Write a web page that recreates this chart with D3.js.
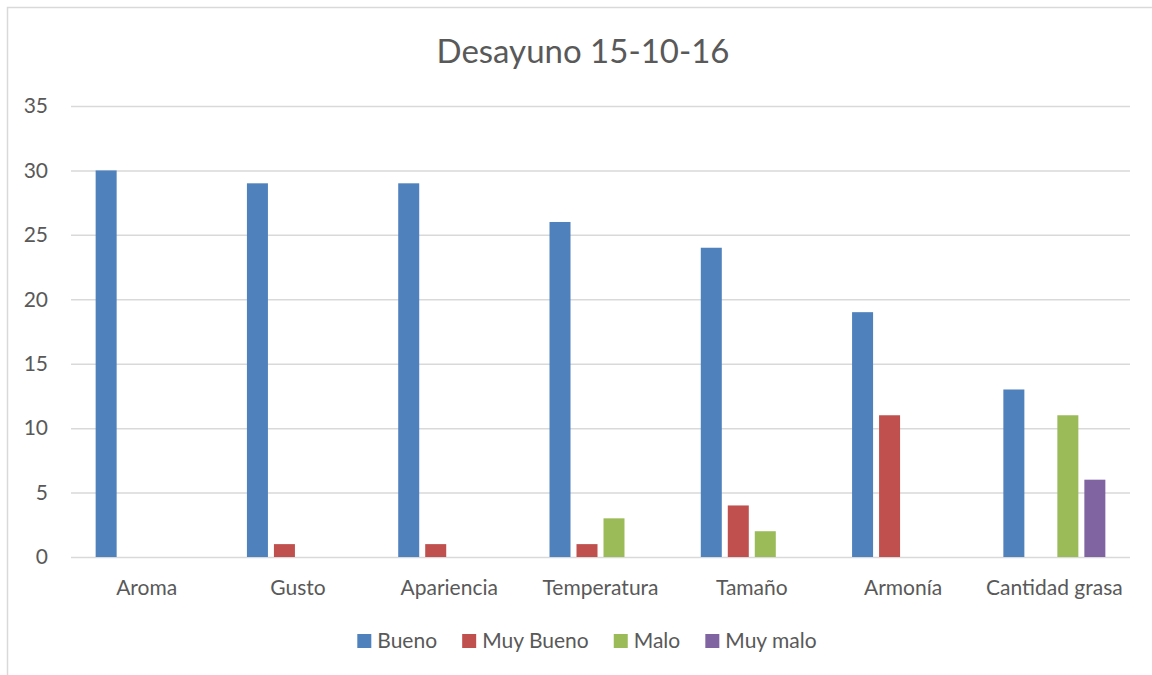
<!DOCTYPE html>
<html>
<head>
<meta charset="utf-8">
<script src="https://cdn.jsdelivr.net/npm/d3@7"></script>
<style>
  body { margin: 0; background: #fff; }
  text { font-family: Lato, "Open Sans", sans-serif; fill: #595959; }
</style>
</head>
<body>
<script>
const categories = ['Aroma', 'Gusto', 'Apariencia', 'Temperatura', 'Tamaño', 'Armonía', 'Cantidad grasa'];
const seriesNames = ['Bueno', 'Muy Bueno', 'Malo', 'Muy malo'];
const colors = ['#4f81bd', '#c0504d', '#9bbb59', '#8064a2'];
const bueno = [30, 29, 29, 26, 24, 19, 13];
const muyBueno = [0, 1, 1, 1, 4, 11, 0];
const malo = [0, 0, 0, 3, 2, 0, 11];
const muyMalo = [0, 0, 0, 0, 0, 0, 6];
const yTicks = [0, 5, 10, 15, 20, 25, 30, 35];

const values = [bueno, muyBueno, malo, muyMalo];
const width = 1152, height = 675;
const plot = {left: 71, right: 1130, top: 106, bottom: 557};

const svg = d3.select('body').append('svg')
    .attr('width', width)
    .attr('height', height);

// chart frame
svg.append('rect')
    .attr('x', 7.5).attr('y', 7.5)
    .attr('width', width).attr('height', height)
    .attr('fill', 'none')
    .attr('stroke', '#d9d9d9')
    .attr('stroke-width', 1.5);

const x = d3.scaleBand()
    .domain(categories)
    .range([plot.left, plot.right]);

const x1 = d3.scaleBand()
    .domain(seriesNames)
    .range([0, 102])
    .paddingInner(0.222);

const y = d3.scaleLinear()
    .domain([0, 35])
    .range([plot.bottom, plot.top]);

// gridlines
svg.append('g')
    .attr('class', 'grid')
    .attr('transform', 'translate(' + plot.left + ',0)')
    .call(d3.axisLeft(y).tickValues(yTicks).tickSize(-(plot.right - plot.left)).tickFormat(''))
    .call(g => g.select('.domain').remove())
    .selectAll('line')
    .attr('stroke', '#d9d9d9')
    .attr('stroke-width', 1.5);

// y labels
svg.append('g')
    .attr('transform', 'translate(' + plot.left + ',0)')
    .call(d3.axisLeft(y).tickValues(yTicks).tickSize(0).tickPadding(23))
    .call(g => g.select('.domain').remove())
    .selectAll('text')
    .attr('font-size', '21px')
    .style('fill', '#595959');

// bars
const groups = svg.selectAll('g.cat')
    .data(categories)
    .enter().append('g')
    .attr('class', 'cat')
    .attr('transform', function(d) {
        return 'translate(' + (x(d) + x.bandwidth() / 2 - 51) + ',0)';
    });

groups.selectAll('rect')
    .data(function(d, i) {
        return seriesNames.map(function(s, j) {
            return {series: s, value: values[j][i], color: colors[j]};
        });
    })
    .enter().append('rect')
    .attr('x', function(d) { return x1(d.series); })
    .attr('width', x1.bandwidth())
    .attr('y', function(d) { return y(d.value); })
    .attr('height', function(d) { return y(0) - y(d.value); })
    .attr('fill', function(d) { return d.color; });

// x labels
svg.append('g')
    .attr('transform', 'translate(0,' + plot.bottom + ')')
    .call(d3.axisBottom(x).tickSize(0).tickPadding(23))
    .call(g => g.select('.domain').remove())
    .selectAll('text')
    .attr('font-size', '21px')
    .style('fill', '#595959');

// title
svg.append('text')
    .attr('x', 583)
    .attr('y', 63)
    .attr('text-anchor', 'middle')
    .attr('font-size', '33px')
    .text('Desayuno 15-10-16');

// legend
const legend = svg.append('g').attr('class', 'legend');
const items = legend.selectAll('g')
    .data(seriesNames)
    .enter().append('g');
items.append('rect')
    .attr('width', 14).attr('height', 14)
    .attr('y', 634)
    .attr('fill', function(d, i) { return colors[i]; });
items.append('text')
    .attr('x', 20)
    .attr('y', 648)
    .attr('font-size', '21px')
    .text(function(d) { return d; });

let pos = 0;
const offsets = [];
items.each(function() {
    offsets.push(pos);
    pos += this.getBBox().width + 25;
});
const total = pos - 25;
const start = 587 - total / 2;
items.attr('transform', function(d, i) { return 'translate(' + (start + offsets[i]) + ',0)'; });
</script>
</body>
</html>
